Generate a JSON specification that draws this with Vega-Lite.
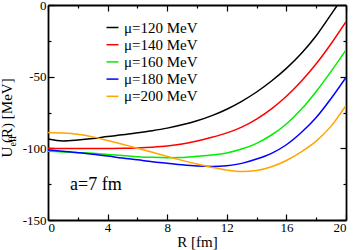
{
  "$schema": "https://vega.github.io/schema/vega-lite/v6.json",
  "width": 298,
  "height": 215,
  "autosize": "none",
  "padding": {"left": 48, "top": 5, "right": 8, "bottom": 30},
  "config": {
    "font": "Liberation Serif",
    "view": {"stroke": null},
    "axis": {
      "grid": false,
      "domainColor": "black",
      "domainWidth": 1.8,
      "tickColor": "black",
      "tickWidth": 1.2,
      "labelColor": "black",
      "labelFont": "Liberation Serif",
      "labelFontSize": 13,
      "titleFont": "Liberation Serif",
      "titleFontWeight": "normal",
      "titleColor": "black",
      "titleFontSize": 15
    },
    "legend": {
      "labelFont": "Liberation Serif",
      "labelFontSize": 15,
      "labelColor": "black"
    }
  },
  "data": {
    "values": [
      {"R": 0, "U": -93.5, "s": "μ=120 MeV"},
      {"R": 1, "U": -94.8, "s": "μ=120 MeV"},
      {"R": 2, "U": -94.2, "s": "μ=120 MeV"},
      {"R": 3, "U": -93.2, "s": "μ=120 MeV"},
      {"R": 4, "U": -91.8, "s": "μ=120 MeV"},
      {"R": 5, "U": -90.6, "s": "μ=120 MeV"},
      {"R": 6, "U": -89.2, "s": "μ=120 MeV"},
      {"R": 7, "U": -87.7, "s": "μ=120 MeV"},
      {"R": 8, "U": -85.9, "s": "μ=120 MeV"},
      {"R": 9, "U": -83.6, "s": "μ=120 MeV"},
      {"R": 10, "U": -80.8, "s": "μ=120 MeV"},
      {"R": 11, "U": -77.2, "s": "μ=120 MeV"},
      {"R": 12, "U": -72.7, "s": "μ=120 MeV"},
      {"R": 13, "U": -67.2, "s": "μ=120 MeV"},
      {"R": 14, "U": -60.7, "s": "μ=120 MeV"},
      {"R": 15, "U": -53, "s": "μ=120 MeV"},
      {"R": 16, "U": -44.2, "s": "μ=120 MeV"},
      {"R": 17, "U": -33.8, "s": "μ=120 MeV"},
      {"R": 18, "U": -21.4, "s": "μ=120 MeV"},
      {"R": 19, "U": -6.5, "s": "μ=120 MeV"},
      {"R": 19.43, "U": 0, "s": "μ=120 MeV"},
      {"R": 0, "U": -100, "s": "μ=140 MeV"},
      {"R": 1, "U": -100.1, "s": "μ=140 MeV"},
      {"R": 2, "U": -100.2, "s": "μ=140 MeV"},
      {"R": 3, "U": -100.2, "s": "μ=140 MeV"},
      {"R": 4, "U": -100.1, "s": "μ=140 MeV"},
      {"R": 5, "U": -100, "s": "μ=140 MeV"},
      {"R": 6, "U": -99.7, "s": "μ=140 MeV"},
      {"R": 7, "U": -99.2, "s": "μ=140 MeV"},
      {"R": 8, "U": -98.4, "s": "μ=140 MeV"},
      {"R": 9, "U": -97, "s": "μ=140 MeV"},
      {"R": 10, "U": -94.9, "s": "μ=140 MeV"},
      {"R": 11, "U": -92.3, "s": "μ=140 MeV"},
      {"R": 12, "U": -89.2, "s": "μ=140 MeV"},
      {"R": 13, "U": -85.2, "s": "μ=140 MeV"},
      {"R": 14, "U": -79.6, "s": "μ=140 MeV"},
      {"R": 15, "U": -72.5, "s": "μ=140 MeV"},
      {"R": 16, "U": -63.7, "s": "μ=140 MeV"},
      {"R": 17, "U": -53.2, "s": "μ=140 MeV"},
      {"R": 18, "U": -41, "s": "μ=140 MeV"},
      {"R": 19, "U": -27, "s": "μ=140 MeV"},
      {"R": 20, "U": -11.6, "s": "μ=140 MeV"},
      {"R": 0, "U": -102, "s": "μ=160 MeV"},
      {"R": 1, "U": -102.5, "s": "μ=160 MeV"},
      {"R": 2, "U": -103, "s": "μ=160 MeV"},
      {"R": 3, "U": -103.5, "s": "μ=160 MeV"},
      {"R": 4, "U": -104.3, "s": "μ=160 MeV"},
      {"R": 5, "U": -105, "s": "μ=160 MeV"},
      {"R": 6, "U": -105.8, "s": "μ=160 MeV"},
      {"R": 7, "U": -106.3, "s": "μ=160 MeV"},
      {"R": 8, "U": -106.5, "s": "μ=160 MeV"},
      {"R": 9, "U": -106.4, "s": "μ=160 MeV"},
      {"R": 10, "U": -105.6, "s": "μ=160 MeV"},
      {"R": 11, "U": -104.7, "s": "μ=160 MeV"},
      {"R": 12, "U": -103.2, "s": "μ=160 MeV"},
      {"R": 13, "U": -100.5, "s": "μ=160 MeV"},
      {"R": 14, "U": -96.5, "s": "μ=160 MeV"},
      {"R": 15, "U": -90.7, "s": "μ=160 MeV"},
      {"R": 16, "U": -83, "s": "μ=160 MeV"},
      {"R": 17, "U": -72.8, "s": "μ=160 MeV"},
      {"R": 18, "U": -60.3, "s": "μ=160 MeV"},
      {"R": 19, "U": -46.3, "s": "μ=160 MeV"},
      {"R": 20, "U": -31.4, "s": "μ=160 MeV"},
      {"R": 0, "U": -101.2, "s": "μ=180 MeV"},
      {"R": 1, "U": -102, "s": "μ=180 MeV"},
      {"R": 2, "U": -103, "s": "μ=180 MeV"},
      {"R": 3, "U": -104.1, "s": "μ=180 MeV"},
      {"R": 4, "U": -105.4, "s": "μ=180 MeV"},
      {"R": 5, "U": -106.8, "s": "μ=180 MeV"},
      {"R": 6, "U": -108, "s": "μ=180 MeV"},
      {"R": 7, "U": -109.3, "s": "μ=180 MeV"},
      {"R": 8, "U": -110.4, "s": "μ=180 MeV"},
      {"R": 9, "U": -111.5, "s": "μ=180 MeV"},
      {"R": 10, "U": -112.3, "s": "μ=180 MeV"},
      {"R": 11, "U": -112.6, "s": "μ=180 MeV"},
      {"R": 12, "U": -112.2, "s": "μ=180 MeV"},
      {"R": 13, "U": -110.5, "s": "μ=180 MeV"},
      {"R": 14, "U": -107.5, "s": "μ=180 MeV"},
      {"R": 15, "U": -103.5, "s": "μ=180 MeV"},
      {"R": 16, "U": -97.5, "s": "μ=180 MeV"},
      {"R": 17, "U": -89, "s": "μ=180 MeV"},
      {"R": 18, "U": -78.5, "s": "μ=180 MeV"},
      {"R": 19, "U": -65.2, "s": "μ=180 MeV"},
      {"R": 20, "U": -50.5, "s": "μ=180 MeV"},
      {"R": 0, "U": -88.9, "s": "μ=200 MeV"},
      {"R": 1, "U": -89.3, "s": "μ=200 MeV"},
      {"R": 2, "U": -90.2, "s": "μ=200 MeV"},
      {"R": 3, "U": -92, "s": "μ=200 MeV"},
      {"R": 4, "U": -94.5, "s": "μ=200 MeV"},
      {"R": 5, "U": -97.2, "s": "μ=200 MeV"},
      {"R": 6, "U": -99.9, "s": "μ=200 MeV"},
      {"R": 7, "U": -102.8, "s": "μ=200 MeV"},
      {"R": 8, "U": -105.6, "s": "μ=200 MeV"},
      {"R": 9, "U": -108.4, "s": "μ=200 MeV"},
      {"R": 10, "U": -111, "s": "μ=200 MeV"},
      {"R": 11, "U": -113.3, "s": "μ=200 MeV"},
      {"R": 12, "U": -115.2, "s": "μ=200 MeV"},
      {"R": 13, "U": -116.2, "s": "μ=200 MeV"},
      {"R": 14, "U": -115.5, "s": "μ=200 MeV"},
      {"R": 15, "U": -112.9, "s": "μ=200 MeV"},
      {"R": 16, "U": -108.5, "s": "μ=200 MeV"},
      {"R": 17, "U": -102.5, "s": "μ=200 MeV"},
      {"R": 18, "U": -95, "s": "μ=200 MeV"},
      {"R": 19, "U": -84.5, "s": "μ=200 MeV"},
      {"R": 20, "U": -70, "s": "μ=200 MeV"}
    ]
  },
  "layer": [
    {
      "mark": {"type": "line", "strokeWidth": 1.5, "interpolate": "monotone", "clip": true},
      "encoding": {
        "x": {
          "field": "R", "type": "quantitative",
          "scale": {"domain": [0, 20], "nice": false, "zero": false},
          "axis": {
            "orient": "bottom",
            "title": "R [fm]",
            "titleBaseline": "alphabetic",
            "titleY": 26,
            "values": [0, 2, 4, 6, 8, 10, 12, 14, 16, 18, 20],
            "labelExpr": "datum.value % 4 === 0 ? '' + datum.value : ''",
            "tickSize": {"condition": {"test": "datum.value % 4 === 0", "value": -6}, "value": -3},
            "labelPadding": 7
          }
        },
        "y": {
          "field": "U", "type": "quantitative",
          "scale": {"domain": [-150, 0], "nice": false, "zero": false},
          "axis": {
            "orient": "left",
            "title": "U   (R) [MeV]",
            "titleAngle": 270,
            "titleAlign": "left",
            "titleBaseline": "alphabetic",
            "titleX": -37,
            "titleY": 152,
            "values": [-150, -125, -100, -75, -50, -25, 0],
            "labelExpr": "datum.value % 50 === 0 ? '' + datum.value : ''",
            "tickSize": {"condition": {"test": "datum.value % 50 === 0", "value": -6}, "value": -3},
            "labelPadding": 8
          }
        },
        "color": {
          "field": "s", "type": "nominal",
          "scale": {
            "domain": ["μ=120 MeV", "μ=140 MeV", "μ=160 MeV", "μ=180 MeV", "μ=200 MeV"],
            "range": ["#000000", "#ff0000", "#00ee00", "#0000ff", "#ffa500"]
          },
          "legend": {
            "title": null,
            "orient": "none",
            "legendX": 57,
            "legendY": 15,
            "padding": 0,
            "symbolType": "stroke",
            "symbolSize": 144,
            "symbolStrokeWidth": 1.5,
            "rowPadding": 1.2,
            "labelOffset": 4
          }
        }
      }
    },
    {
      "mark": {"type": "line", "opacity": 0},
      "encoding": {
        "x": {
          "field": "R", "type": "quantitative",
          "axis": {
            "orient": "top",
            "title": null,
            "labels": false,
            "values": [0, 2, 4, 6, 8, 10, 12, 14, 16, 18, 20],
            "tickSize": {"condition": {"test": "datum.value % 4 === 0", "value": -6}, "value": -3}
          }
        },
        "y": {
          "field": "U", "type": "quantitative",
          "axis": {
            "orient": "right",
            "title": "eff",
            "titleFontSize": 10,
            "titleAngle": 270,
            "titleAlign": "left",
            "titleBaseline": "alphabetic",
            "titleX": -331,
            "titleY": 141,
            "labels": false,
            "values": [-150, -125, -100, -75, -50, -25, 0],
            "tickSize": {"condition": {"test": "datum.value % 50 === 0", "value": -6}, "value": -3}
          }
        }
      }
    },
    {
      "data": {"values": [{"label": "a=7 fm"}]},
      "mark": {"type": "text", "fontSize": 18, "align": "left", "baseline": "alphabetic", "color": "black"},
      "encoding": {
        "text": {"field": "label"},
        "x": {"datum": 1.48, "type": "quantitative", "axis": null},
        "y": {"datum": -129, "type": "quantitative", "axis": null}
      }
    }
  ],
  "resolve": {"axis": {"x": "independent", "y": "independent"}}
}
